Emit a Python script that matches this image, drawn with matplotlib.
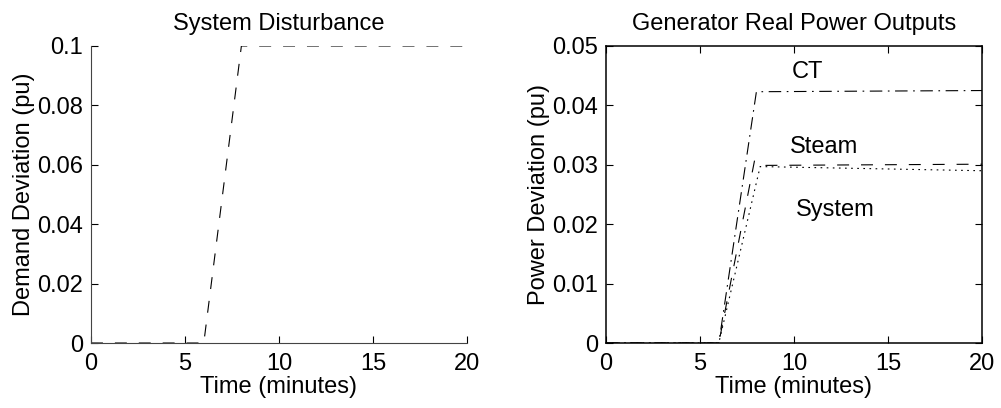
import matplotlib
matplotlib.use("Agg")
import matplotlib.pyplot as plt

plt.rcParams['font.family'] = ['Liberation Sans', 'DejaVu Sans']
plt.rcParams['font.size'] = 17
plt.rcParams['lines.scale_dashes'] = False

# demand step (left panel)
demand_time = [0, 6, 8, 20]
demand_dev = [0, 0, 0.1, 0.1]

# generator responses (right panel)
ct_time = [0, 6, 8, 20]
ct_power = [0, 0, 0.0423, 0.0425]
steam_time = [0, 6, 7.9, 8.5, 20]
steam_power = [0, 0, 0.0307, 0.0299, 0.0301]
system_time = [0, 6, 8.2, 20]
system_power = [0, 0, 0.0297, 0.0290]

DASH = (0, (8.6, 8.6))
DASHDOT = (0, (9, 4, 1.2, 4))
DOT = (0, (1.2, 3.2))

fig = plt.figure(figsize=(10.01, 4.08), dpi=100)
ax1 = fig.add_axes([0.0909, 0.1593, 0.3756, 0.728])
ax2 = fig.add_axes([0.6054, 0.1593, 0.3756, 0.728])

ax1.plot(demand_time, demand_dev, color='black', lw=0.8, linestyle=DASH)
ax1.set_xlim(0, 20)
ax1.set_ylim(0, 0.1)
ax1.set_xticks([0, 5, 10, 15, 20])
ax1.set_yticks([0, 0.02, 0.04, 0.06, 0.08, 0.1])
ax1.set_yticklabels(['0', '0.02', '0.04', '0.06', '0.08', '0.1'])
ax1.spines['top'].set_visible(False)
ax1.spines['right'].set_visible(False)
for sp in ax1.spines.values():
    sp.set_linewidth(0.8)
    sp.set_color('#444444')
ax1.tick_params(direction='in', length=5, width=0.8)
ax1.tick_params(axis='y', pad=5.5)
ax1.tick_params(axis='x', pad=7)
ax1.set_title('System Disturbance', fontsize=17, pad=11.5)
ax1.set_xlabel('Time (minutes)', labelpad=1)
ax1.set_ylabel('Demand Deviation (pu)', labelpad=1.5)

ax2.plot(ct_time, ct_power, color='black', lw=0.8, linestyle=DASHDOT)
ax2.plot(steam_time, steam_power, color='black', lw=0.8, linestyle=DASH)
ax2.plot(system_time, system_power, color='black', lw=0.8, linestyle=DOT)
ax2.set_xlim(0, 20)
ax2.set_ylim(0, 0.05)
ax2.set_xticks([0, 5, 10, 15, 20])
ax2.set_yticks([0, 0.01, 0.02, 0.03, 0.04, 0.05])
ax2.set_yticklabels(['0', '0.01', '0.02', '0.03', '0.04', '0.05'])
ax2.tick_params(direction='in', length=5, width=0.8, top=True, right=True)
ax2.tick_params(axis='y', pad=5.5)
ax2.tick_params(axis='x', pad=7)
for sp in ax2.spines.values():
    sp.set_linewidth(1.1)
ax2.set_title('Generator Real Power Outputs', fontsize=17, pad=11.5)
ax2.set_xlabel('Time (minutes)', labelpad=1)
ax2.set_ylabel('Power Deviation (pu)', labelpad=1.5)

ax2.text(9.9, 0.0456, 'CT', va='center', ha='left')
ax2.text(9.8, 0.0330, 'Steam', va='center', ha='left')
ax2.text(10.1, 0.0224, 'System', va='center', ha='left')

fig.savefig('out.png', dpi=100)
